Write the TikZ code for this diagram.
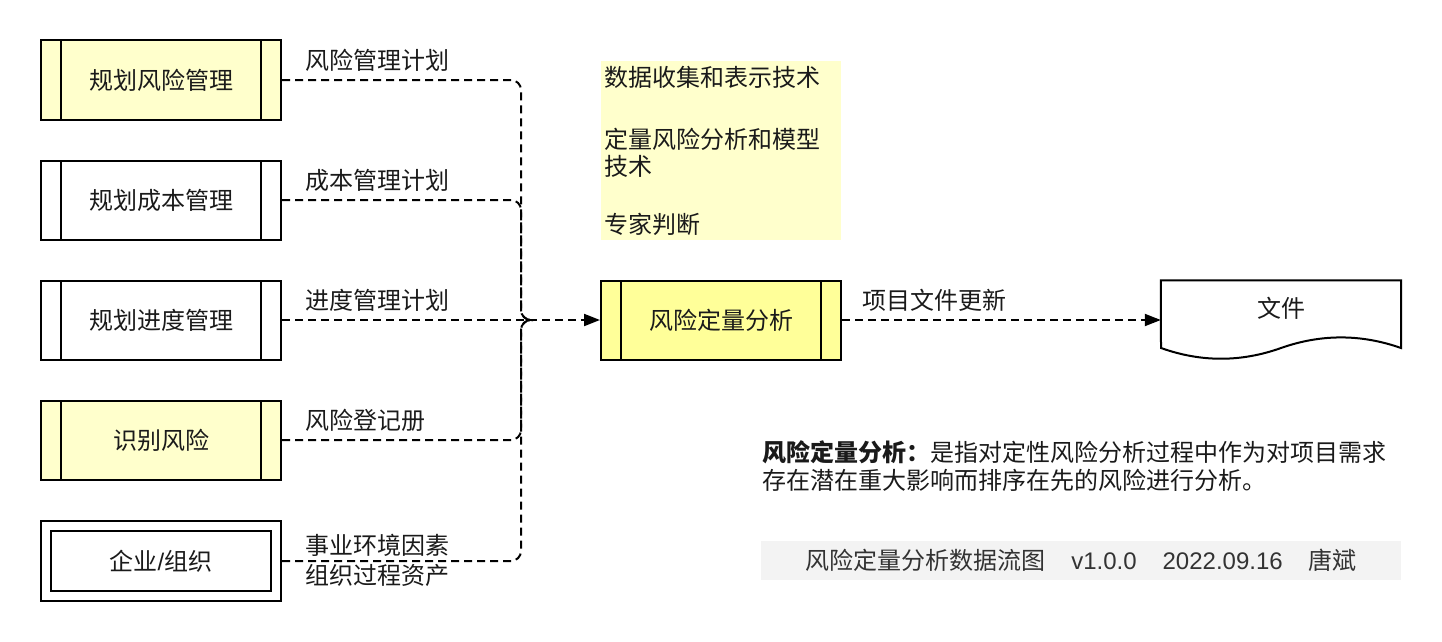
\documentclass[tikz,border=0pt]{standalone}
\usepackage{fontspec}
\setmainfont{Noto Sans CJK SC}
\newfontfamily\latinfont{Liberation Sans}
\usetikzlibrary{arrows.meta,calc}
\definecolor{lightyel}{HTML}{FFFFCC}
\definecolor{midyel}{HTML}{FFFF99}
\definecolor{footgray}{HTML}{F3F3F3}
\definecolor{txt}{HTML}{1A1A1A}
\begin{document}
\begin{tikzpicture}[x=1pt,y=-1pt,
  every node/.style={font=\fontsize{24}{27}\selectfont, text=txt},
  proc/.style={draw=black, line width=2pt, minimum width=240pt, minimum height=79pt, inner sep=0pt},
  strips/.style={path picture={
      \draw[line width=2pt] ([xshift=20pt]path picture bounding box.north west) -- ([xshift=20pt]path picture bounding box.south west);
      \draw[line width=2pt] ([xshift=-20pt]path picture bounding box.north east) -- ([xshift=-20pt]path picture bounding box.south east);}},
  doublebox/.style={path picture={
      \draw[line width=2pt] ([shift={(10,10)}]path picture bounding box.north west) rectangle ([shift={(-10,-10)}]path picture bounding box.south east);}},
  flow/.style={line width=2pt, dash pattern=on 8pt off 5pt, draw=black},
  arr/.style={-{Triangle[length=16pt,width=12pt]}},
  lbl/.style={anchor=west, inner sep=0pt}]
\useasboundingbox (0,0) rectangle (1442,642);

% source boxes
\node[proc, strips, fill=lightyel] (b1) at (161,80) {规划风险管理};
\node[proc, strips, fill=white] (b2) at (161,200) {规划成本管理};
\node[proc, strips, fill=white] (b3) at (161,320) {规划进度管理};
\node[proc, strips, fill=lightyel] (b4) at (161,440) {识别风险};
\node[proc, doublebox, fill=white, minimum height=80pt] (b5) at (161,561) {企业{\latinfont /}组织};

% central process
\node[proc, strips, fill=midyel] (c) at (721,320) {风险定量分析};

% tools box
\node[fill=lightyel, anchor=north west, minimum width=240pt, minimum height=179pt,
      text width=234pt, inner xsep=3pt, inner ysep=0pt, align=left,
      font=\fontsize{24}{27}\selectfont] (tech) at (601,61)
  {数据收集和表示技术\\[35pt]定量风险分析和模型\\技术\\[31pt]专家判断};

% document shape
\node[minimum width=240pt, minimum height=79pt, inner sep=0pt] (doc) at (1281,320) {};
\draw[line width=2pt, fill=white] (doc.north west) -- (doc.north east) -- (1401,348)
  .. controls (1361,333.9) and (1321,333.9) .. (1281,348)
  .. controls (1241,362.3) and (1201,362.3) .. (1161,348) -- cycle;
\node (doctext) at (1281,308) {文件};

% merge connectors
\coordinate (m) at (521,320);
\coordinate (mo) at (533,320);
\draw[flow, rounded corners=10pt] (b1.east) -| (m) -- (mo);
\draw[flow, rounded corners=10pt] (b2.east) -| (m) -- (mo);
\draw[flow, rounded corners=10pt] (b4.east) -| (m) -- (mo);
\draw[flow, rounded corners=10pt] (b5.east) -| (m) -- (mo);
\draw[flow, arr] (b3.east) -- (c.west);
\draw[flow, arr] (c.east) -- (doc.west);

% connector labels
\node[lbl] (l1) at (305,60) {风险管理计划};
\node[lbl] (l2) at (305,180) {成本管理计划};
\node[lbl] (l3) at (305,300) {进度管理计划};
\node[lbl] (l4) at (305,420) {风险登记册};
\node[lbl, align=left, font=\fontsize{24}{30}\selectfont] (l5) at (305,560) {事业环境因素\\组织过程资产};
\node[lbl] (l6) at (862,300) {项目文件更新};

% description
\node[lbl, align=left, font=\fontsize{24}{28}\selectfont] (desc) at (762,466)
  {\textbf{风险定量分析：}是指对定性风险分析过程中作为对项目需求\\存在潜在重大影响而排序在先的风险进行分析。};

% footer
\node[fill=footgray, minimum width=640pt, minimum height=39pt, inner sep=0pt, text=black!80] (foot) at (1081,560.5)
  {风险定量分析数据流图\hspace{26pt}{\latinfont v1.0.0\hspace{26pt}2022.09.16}\hspace{26pt}唐斌};
\end{tikzpicture}
\end{document}
